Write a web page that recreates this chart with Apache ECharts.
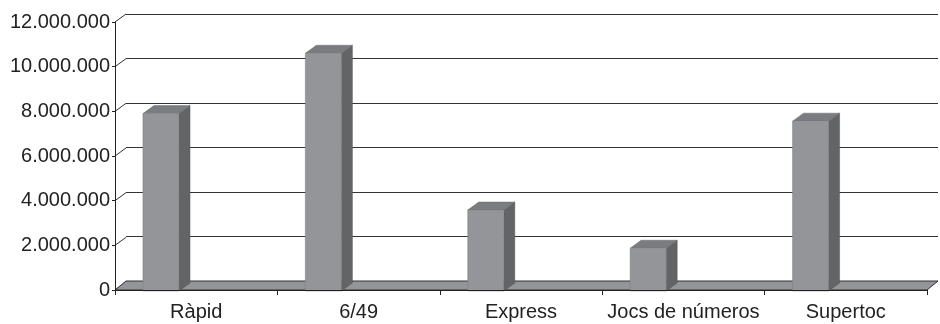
<!DOCTYPE html>
<html>
<head>
<meta charset="utf-8">
<script src="https://cdn.jsdelivr.net/npm/echarts@6/dist/echarts.min.js"></script>
<style>
html,body{margin:0;padding:0;background:#fff;}
#c{width:940px;height:324px;}
</style>
</head>
<body>
<div id="c"></div>
<script>
var categories = ["Ràpid", "6/49", "Express", "Jocs de números", "Supertoc"];
var values = [7900000, 10600000, 3580000, 1870000, 7560000];
var yTicks = [0, 2000000, 4000000, 6000000, 8000000, 10000000, 12000000];

var DX = 11, DY = 8;
var FONT = '"Liberation Sans", Arial, sans-serif';

function fmt(v) {
  return String(v).replace(/\B(?=(\d{3})+(?!\d))/g, '.');
}

var chart = echarts.init(document.getElementById('c'), null, {renderer: 'canvas'});

var option = {
  animation: false,
  backgroundColor: '#fff',
  grid: [
    {left: 126, right: 2, top: 14, bottom: 43},
    {left: 115, right: 13, top: 22, bottom: 34}
  ],
  xAxis: [
    {gridIndex: 0, type: 'category', data: categories, show: false},
    {gridIndex: 1, type: 'category', data: categories, boundaryGap: true,
     axisLine: {show: true, lineStyle: {color: '#222', width: 1}},
     axisTick: {show: true, interval: 0, length: 5, inside: false, lineStyle: {color: '#222'}},
     axisLabel: {color: '#222', fontFamily: FONT, fontSize: 20, margin: 12, interval: 0,
                 hideOverlap: false},
     z: 10}
  ],
  yAxis: [
    {gridIndex: 0, type: 'value', min: 0, max: 12000000, interval: 2000000,
     axisLine: {show: false}, axisTick: {show: false}, axisLabel: {show: false},
     splitLine: {show: true, lineStyle: {color: '#333', width: 1.2}}},
    {gridIndex: 1, type: 'value', min: 0, max: 12000000, interval: 2000000,
     axisLine: {show: true, lineStyle: {color: '#222', width: 1}},
     axisTick: {show: true, length: 3, lineStyle: {color: '#222'}},
     axisLabel: {color: '#222', fontFamily: FONT, fontSize: 20, margin: 5,
                 formatter: function (v) { return fmt(v); }},
     splitLine: {show: false}, z: 10}
  ],
  series: [
    {
      type: 'custom', xAxisIndex: 1, yAxisIndex: 1, z: 3,
      data: yTicks.map(function (v) { return [0, v]; }),
      renderItem: function (params, api) {
        var cs = params.coordSys;
        var p = api.coord([0, api.value(1)]);
        return {type: 'line', shape: {x1: cs.x, y1: p[1], x2: cs.x + DX, y2: p[1] - DY},
                style: {stroke: '#333', lineWidth: 1}};
      }
    },
    {
      type: 'custom', xAxisIndex: 1, yAxisIndex: 1, z: 4,
      data: [[0, 0]],
      renderItem: function (params, api) {
        var cs = params.coordSys;
        var y0 = api.coord([0, 0])[1];
        var x0 = cs.x, x1 = cs.x + cs.width;
        return {type: 'polygon',
          shape: {points: [[x0, y0], [x0 + DX, y0 - DY - 1], [x1 + DX, y0 - DY - 1], [x1, y0]]},
          style: {fill: '#939598', stroke: '#333', lineWidth: 1}};
      }
    },
    {
      type: 'custom', xAxisIndex: 1, yAxisIndex: 1, z: 5,
      data: values.map(function (v, i) { return [i, v]; }),
      renderItem: function (params, api) {
        var i = api.value(0);
        var top = api.coord([i, api.value(1)]);
        var base = api.coord([i, 0]);
        var bw = api.size([1, 0])[0];
        var x0 = base[0] - bw / 2 + bw * 0.172;
        var w = bw * 0.222;
        var yT = top[1], yB = base[1] + 1;
        return {type: 'group', children: [
          {type: 'polygon', shape: {points: [[x0 + w, yT], [x0 + w + DX, yT - DY], [x0 + w + DX, yB - DY], [x0 + w, yB]]},
           style: {fill: '#636466', stroke: '#555', lineWidth: 0.5}},
          {type: 'polygon', shape: {points: [[x0, yT], [x0 + DX, yT - DY], [x0 + w + DX, yT - DY], [x0 + w, yT]]},
           style: {fill: '#7b7c7f', stroke: '#6a6b6d', lineWidth: 0.5}},
          {type: 'rect', shape: {x: x0, y: yT, width: w, height: yB - yT},
           style: {fill: '#939598', stroke: '#7d7e80', lineWidth: 0.5}}
        ]};
      }
    }
  ]
};
chart.setOption(option);
</script>
</body>
</html>
